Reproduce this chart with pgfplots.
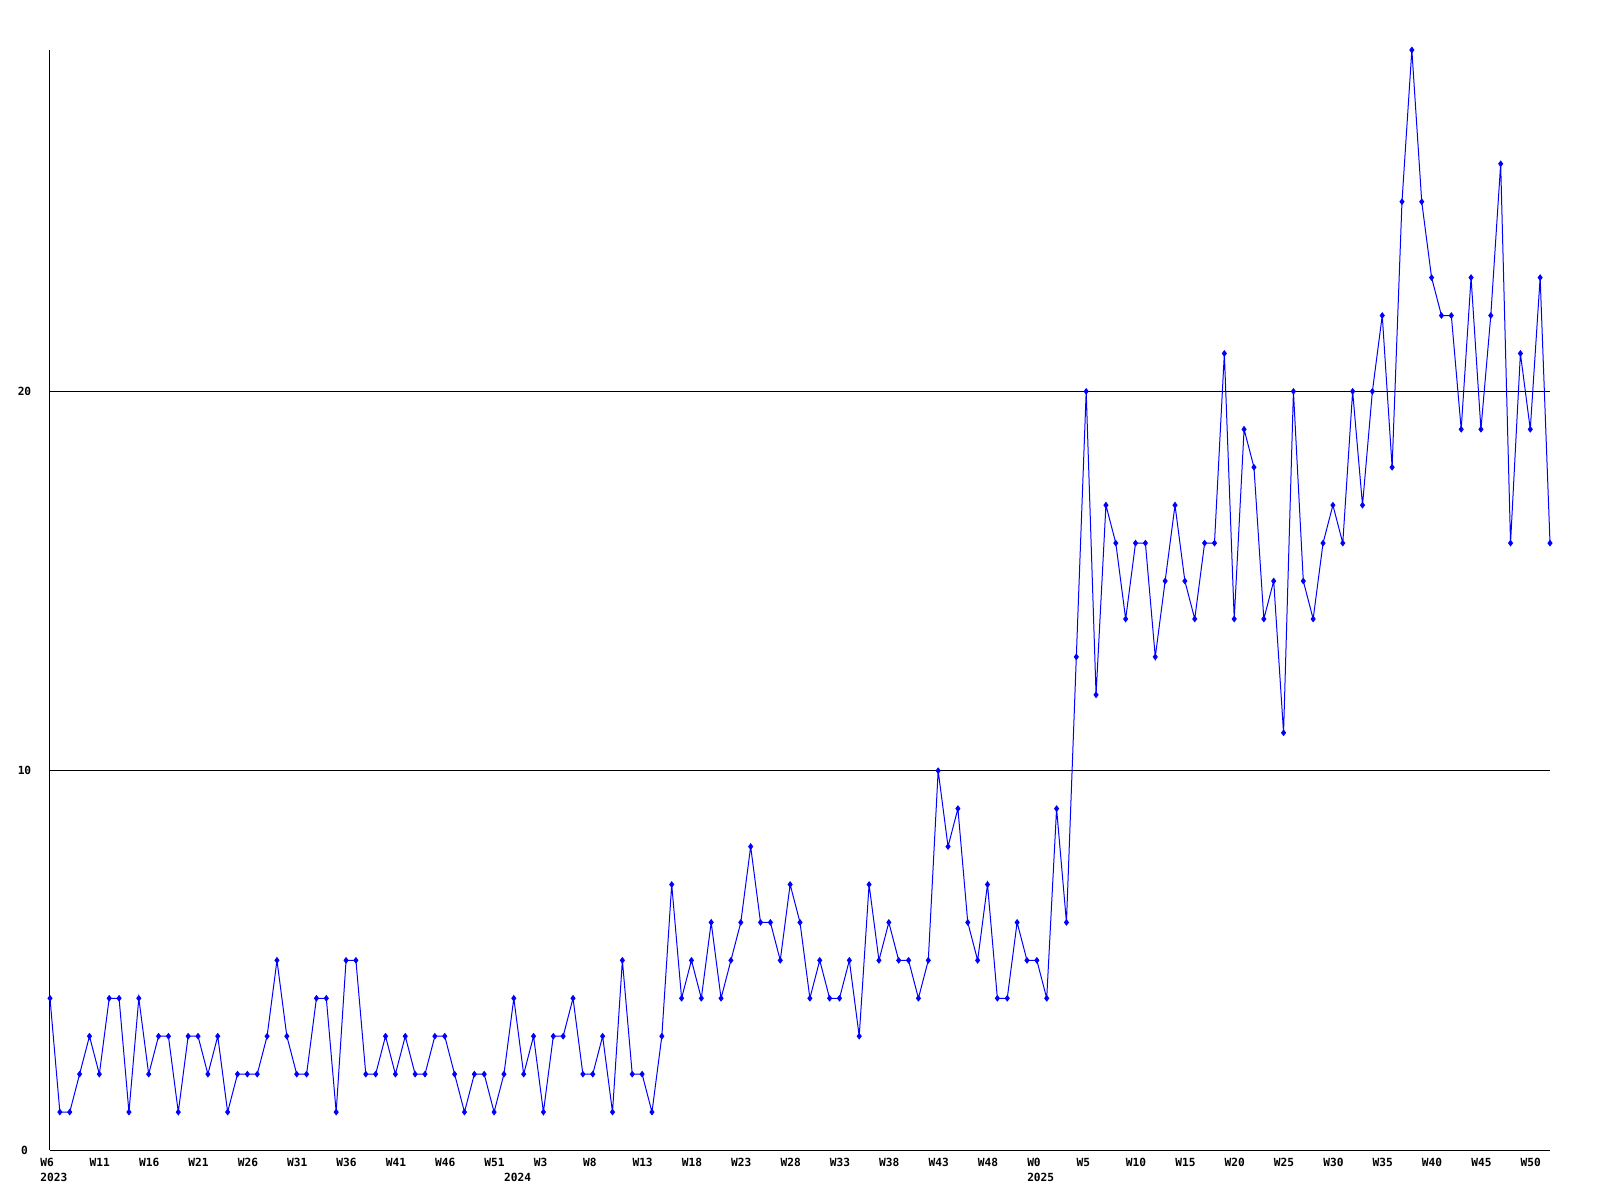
\documentclass[border=0pt]{standalone}
\usepackage{fontspec}
\setmonofont{DejaVu Sans Mono}
\usepackage{pgfplots}
\pgfplotsset{compat=1.18}
\usepackage{pgfplotstable}
\definecolor{lineblue}{RGB}{0,0,255}
\pgfplotstableread{
x y
1 4
2 1
3 1
4 2
5 3
6 2
7 4
8 4
9 1
10 4
11 2
12 3
13 3
14 1
15 3
16 3
17 2
18 3
19 1
20 2
21 2
22 2
23 3
24 5
25 3
26 2
27 2
28 4
29 4
30 1
31 5
32 5
33 2
34 2
35 3
36 2
37 3
38 2
39 2
40 3
41 3
42 2
43 1
44 2
45 2
46 1
47 2
48 4
49 2
50 3
51 1
52 3
53 3
54 4
55 2
56 2
57 3
58 1
59 5
60 2
61 2
62 1
63 3
64 7
65 4
66 5
67 4
68 6
69 4
70 5
71 6
72 8
73 6
74 6
75 5
76 7
77 6
78 4
79 5
80 4
81 4
82 5
83 3
84 7
85 5
86 6
87 5
88 5
89 4
90 5
91 10
92 8
93 9
94 6
95 5
96 7
97 4
98 4
99 6
100 5
101 5
102 4
103 9
104 6
105 13
106 20
107 12
108 17
109 16
110 14
111 16
112 16
113 13
114 15
115 17
116 15
117 14
118 16
119 16
120 21
121 14
122 19
123 18
124 14
125 15
126 11
127 20
128 15
129 14
130 16
131 17
132 16
133 20
134 17
135 20
136 22
137 18
138 25
139 29
140 25
141 23
142 22
143 22
144 19
145 23
146 19
147 22
148 26
149 16
150 21
151 19
152 23
153 16
}\weekly
\begin{document}
\begin{tikzpicture}
\path[use as bounding box] (0,0) rectangle (800pt,600pt);
\begin{axis}[
  at={(25pt,25pt)}, anchor=south west,
  scale only axis, width=750pt, height=550pt,
  xmin=1, xmax=153, ymin=0, ymax=29,
  axis lines*=left,
  axis line style={black, line width=0.5pt},
  clip=false,
  ytick={0,10,20}, yticklabels={0,10,20},
  ymajorgrids, major grid style={black, line width=0.5pt},
  major tick length=0pt, tick style={draw=none},
  xtick={1,6,11,16,21,26,31,36,41,46,51,56,61,66,71,76,81,86,91,96,101,106,111,116,121,126,131,136,141,146,151},
  xticklabels={{W6\\2023},W11,W16,W21,W26,W31,W36,W41,W46,W51,W3,W8,W13,W18,W23,W28,W33,W38,W43,W48,{W0\\2025},W5,W10,W15,W20,W25,W30,W35,W40,W45,W50},
  extra x ticks={48},
  extra x tick labels={{\vphantom{W}\\2024}},
  extra x tick style={grid=none},
  xticklabel style={anchor=north west, inner sep=0pt, align=left, xshift=-5pt, yshift=-4pt,
    font=\fontsize{5.6}{7.35}\selectfont\ttfamily\bfseries},
  yticklabel style={anchor=center, inner sep=0pt, xshift=-12.75pt,
    font=\fontsize{5.6}{7.35}\selectfont\ttfamily\bfseries},
]
\addplot[lineblue, line width=0.5pt, mark=diamond*, mark size=1.3pt, mark options={solid, fill=lineblue}] table[x=x, y=y] {\weekly};
\end{axis}
\end{tikzpicture}
\end{document}
